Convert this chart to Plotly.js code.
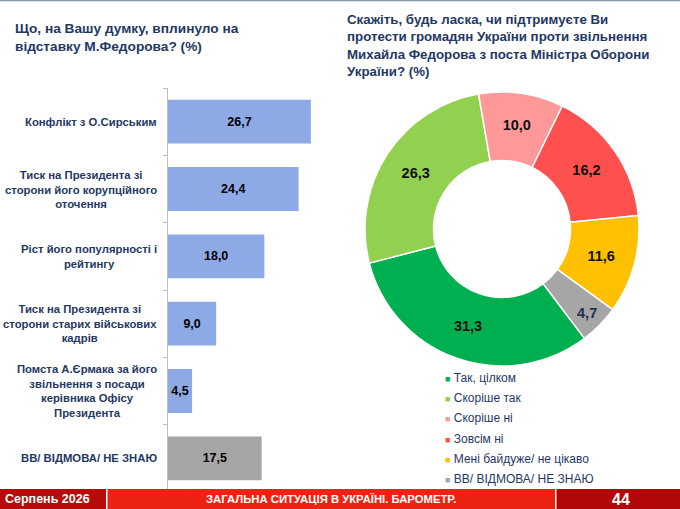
<!DOCTYPE html>
<html>
<head>
<meta charset="utf-8">
<script src="https://cdn.plot.ly/plotly-3.0.1.min.js"></script>
<style>
  html, body { margin: 0; padding: 0; background: #fff; }
  #chart { width: 680px; height: 509px; }
</style>
</head>
<body>
<div id="chart"></div>
<script>
// left chart: what influenced the resignation
const reasons = [
  "Конфлікт з О.Сирським",
  "Тиск на Президента зі<br>сторони його корупційного<br>оточення",
  "Ріст його популярності і<br>рейтингу",
  "Тиск на Президента зі<br>сторони старих військових<br>кадрів",
  "Помста А.Єрмака за його<br>звільнення з посади<br>керівника Офісу<br>Президента",
  "ВВ/ ВІДМОВА/ НЕ ЗНАЮ"
];
const reasonValues = [26.7, 24.4, 18.0, 9.0, 4.5, 17.5];

// right chart: support of protests
const answers = [
  "Так, цілком",
  "Скоріше так",
  "Скоріше ні",
  "Зовсім ні",
  "Мені байдуже/ не цікаво",
  "ВВ/ ВІДМОВА/ НЕ ЗНАЮ"
];
const answerValues = [31.3, 26.3, 10.0, 16.2, 11.6, 4.7];

const leftTitle = "Що, на Вашу думку, вплинуло на<br>відставку М.Федорова? (%)";
const rightTitle = "Скажіть, будь ласка, чи підтримуєте Ви<br>протести громадян України проти звільнення<br>Михайла Федорова з поста Міністра Оборони<br>України? (%)";
const footerLeft = "Серпень 2026";
const footerMid = "ЗАГАЛЬНА СИТУАЦІЯ В УКРАЇНІ. БАРОМЕТР.";
const footerPage = "44";

// styles
const W = 680, H = 509;
const NAVY = "#1f3864";
const FONT = "Liberation Sans, Arial, sans-serif";
const barColors = ["#8eaae6", "#8eaae6", "#8eaae6", "#8eaae6", "#8eaae6", "#a6a6a6"];
const pieColors = ["#00b050", "#92d050", "#ff9999", "#ff5050", "#ffc000", "#a6a6a6"];
const pieTextColors = ["#111", "#111", "#111", "#111", "#111", "#1f2d50"];

const px = x => x / W;
const py = y => 1 - y / H;

const bars = {
  type: "bar",
  orientation: "h",
  y: reasons,
  x: reasonValues,
  marker: { color: barColors },
  texttemplate: "%{x:.1f}",
  textposition: "inside",
  insidetextanchor: "middle",
  constraintext: "none",
  textfont: { family: FONT, size: 12.5, color: "#000", weight: "bold" },
  hoverinfo: "skip",
  xaxis: "x",
  yaxis: "y"
};

const donut = {
  type: "pie",
  labels: answers,
  values: answerValues,
  sort: false,
  direction: "clockwise",
  rotation: 143,
  hole: 0.5,
  marker: { colors: pieColors, line: { color: "#fff", width: 1.5 } },
  texttemplate: "%{value:.1f}",
  textposition: "inside",
  insidetextorientation: "horizontal",
  textfont: { family: FONT, size: 14.5, color: pieTextColors, weight: "bold" },
  domain: { x: [px(365), px(639)], y: [py(366), py(92)] },
  hoverinfo: "skip",
  showlegend: false
};

const annotations = [];

// category labels, centred lines like the original
reasons.forEach(r => {
  annotations.push({
    xref: "paper", yref: "y", x: px(159), y: r,
    xanchor: "right", yanchor: "middle", align: "center",
    text: r, showarrow: false,
    font: { family: FONT, size: 11.3, color: NAVY, weight: "bold" }
  });
});

// legend for the donut
answers.forEach((a, i) => {
  annotations.push({
    xref: "paper", yref: "paper", x: px(443), y: py(378 + i * 20.2),
    xanchor: "left", yanchor: "middle", align: "left",
    text: `<span style="color:${pieColors[i]};font-size:9px">■</span> ${a}`,
    showarrow: false,
    font: { family: FONT, size: 12, color: NAVY }
  });
});

// titles
annotations.push({
  xref: "paper", yref: "paper", x: px(13), y: py(19),
  xanchor: "left", yanchor: "top", align: "left",
  text: leftTitle, showarrow: false,
  font: { family: FONT, size: 13.7, color: NAVY, weight: "bold" }
});
annotations.push({
  xref: "paper", yref: "paper", x: px(345), y: py(10),
  xanchor: "left", yanchor: "top", align: "left",
  text: rightTitle, showarrow: false,
  font: { family: FONT, size: 13.3, color: NAVY, weight: "bold" }
});

// footer texts
annotations.push({
  xref: "paper", yref: "paper", x: px(3), y: py(499),
  xanchor: "left", yanchor: "middle", text: footerLeft, showarrow: false,
  font: { family: FONT, size: 12.5, color: "#fff", weight: "bold" }
});
annotations.push({
  xref: "paper", yref: "paper", x: px(331), y: py(499),
  xanchor: "center", yanchor: "middle", text: footerMid, showarrow: false,
  font: { family: FONT, size: 11.3, color: "#fff", weight: "bold" }
});
annotations.push({
  xref: "paper", yref: "paper", x: px(621), y: py(499),
  xanchor: "center", yanchor: "middle", text: footerPage, showarrow: false,
  font: { family: FONT, size: 16, color: "#fff", weight: "bold" }
});

const shapes = [
  { type: "line", xref: "paper", yref: "paper", x0: 0, x1: 1, y0: py(0.5), y1: py(0.5),
    line: { color: "#8797ad", width: 1.5 } },
  { type: "rect", xref: "paper", yref: "paper", x0: 0, x1: px(106), y0: 0, y1: py(489),
    fillcolor: "#b80a0a", line: { width: 0 }, layer: "above" },
  { type: "rect", xref: "paper", yref: "paper", x0: px(107.5), x1: px(555), y0: 0, y1: py(489),
    fillcolor: "#ee2212", line: { width: 0 }, layer: "above" },
  { type: "rect", xref: "paper", yref: "paper", x0: px(556.5), x1: 1, y0: 0, y1: py(489),
    fillcolor: "#b00808", line: { width: 0 }, layer: "above" }
];

const layout = {
  width: W,
  height: H,
  margin: { l: 0, r: 0, t: 0, b: 0 },
  paper_bgcolor: "#fff",
  plot_bgcolor: "#fff",
  separators: ",.",
  showlegend: false,
  bargap: 0.35,
  xaxis: {
    domain: [px(168), px(328)],
    range: [0, 29.9],
    visible: false,
    fixedrange: true
  },
  yaxis: {
    domain: [py(492), py(88)],
    autorange: "reversed",
    showticklabels: false,
    showline: true,
    linecolor: "#bfbfbf",
    linewidth: 1,
    ticks: "outside",
    ticklen: 4,
    tickcolor: "#bfbfbf",
    tickson: "boundaries",
    showgrid: false,
    zeroline: false,
    fixedrange: true
  },
  annotations: annotations,
  shapes: shapes
};

Plotly.newPlot("chart", [bars, donut], layout, { displayModeBar: false, staticPlot: true });
</script>
</body>
</html>
